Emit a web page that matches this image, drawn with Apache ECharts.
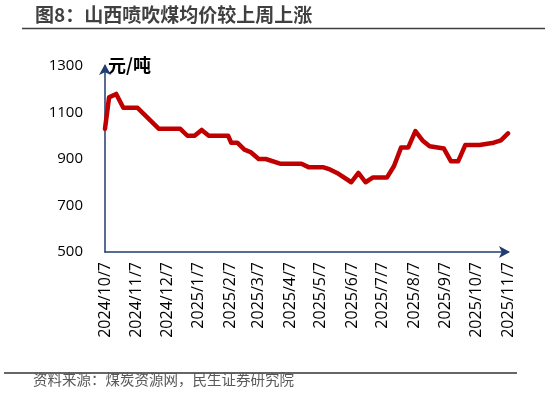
<!DOCTYPE html>
<html><head><meta charset="utf-8">
<script src="https://cdn.jsdelivr.net/npm/echarts@6/dist/echarts.min.js"></script>
<style>html,body{margin:0;padding:0;background:#fff}#c{width:545px;height:401px}</style>
</head><body><div id="c"></div>
<script>
var dates = ['2024-10-07','2024-10-11','2024-10-18','2024-10-25','2024-11-08','2024-11-29','2024-12-20','2024-12-27','2025-01-03','2025-01-10','2025-01-17','2025-02-05','2025-02-08','2025-02-14','2025-02-21','2025-02-27','2025-03-07','2025-03-14','2025-03-28','2025-04-18','2025-04-25','2025-05-09','2025-05-16','2025-05-23','2025-06-06','2025-06-13','2025-06-20','2025-06-27','2025-07-11','2025-07-18','2025-07-25','2025-08-01','2025-08-08','2025-08-15','2025-08-22','2025-09-05','2025-09-12','2025-09-19','2025-09-26','2025-10-10','2025-10-24','2025-10-31','2025-11-07'];
var prices = [1030,1165,1180,1120,1120,1030,1030,1000,1000,1025,1000,1000,970,970,940,930,900,900,880,880,865,865,855,840,800,840,800,820,820,870,950,950,1020,980,955,945,890,890,960,960,970,980,1010];
var tickDates = ['2024-10-07','2024-11-07','2024-12-07','2025-01-07','2025-02-07','2025-03-07','2025-04-07','2025-05-07','2025-06-07','2025-07-07','2025-08-07','2025-09-07','2025-10-07','2025-11-07'];
var yTicks = [500,700,900,1100,1300];
var titleText = '图8：山西喷吹煤均价较上周上涨';
var unitText = '元/吨';
var sourceText = '资料来源：煤炭资源网，民生证券研究院';

function ts(s){var p=s.split('-');return Date.UTC(+p[0],+p[1]-1,+p[2]);}
function fmt(v){var d=new Date(v);return d.getUTCFullYear()+'/'+(d.getUTCMonth()+1)+'/'+d.getUTCDate();}
var seriesData = dates.map(function(d,i){return [ts(d),prices[i]];});
var axisColor = '#1F3C73';
var chart = echarts.init(document.getElementById('c'));
chart.setOption({
  animation:false,
  grid:{left:105,right:37,top:66,bottom:149,containLabel:false},
  graphic:[
    {type:'text',left:35,top:5,style:{text:titleText,font:'bold 19px "Noto Sans CJK SC"',fill:'#404040'}},
    {type:'line',shape:{x1:22,y1:28.5,x2:545,y2:28.5},style:{stroke:'#404040',lineWidth:1.5}},
    {type:'text',left:108,top:56,style:{text:unitText,font:'bold 18px "Noto Sans CJK SC"',fill:'#000'}},
    {type:'line',shape:{x1:4,y1:373,x2:517,y2:373},style:{stroke:'#333',lineWidth:1.5}},
    {type:'text',left:33,top:372,style:{text:sourceText,font:'14.5px "Noto Sans CJK SC"',fill:'#595959'}}
  ],
  xAxis:{type:'value',min:ts(tickDates[0]),max:ts(tickDates[tickDates.length-1]),
    splitLine:{show:false},axisTick:{show:false},
    axisLine:{show:true,lineStyle:{color:axisColor,width:1.5},symbol:['none','arrow'],symbolSize:[9,11],symbolOffset:[0,2]},
    axisLabel:{customValues:tickDates.map(ts),rotate:90,margin:10,formatter:fmt,color:'#000',fontSize:16,fontFamily:'Open Sans'}
  },
  yAxis:{type:'value',min:500,max:1300,interval:200,
    splitLine:{show:false},axisTick:{show:false},
    axisLine:{show:true,lineStyle:{color:axisColor,width:1.5},symbol:['none','arrow'],symbolSize:[9,11],symbolOffset:[0,2]},
    axisLabel:{customValues:yTicks,margin:22,formatter:function(v){return String(v);},color:'#000',fontSize:15,fontFamily:'Open Sans'}
  },
  series:[{type:'line',data:seriesData,showSymbol:false,symbol:'none',
    lineStyle:{color:'#C00000',width:4.5,join:'round',cap:'round'}}]
});
</script></body></html>
